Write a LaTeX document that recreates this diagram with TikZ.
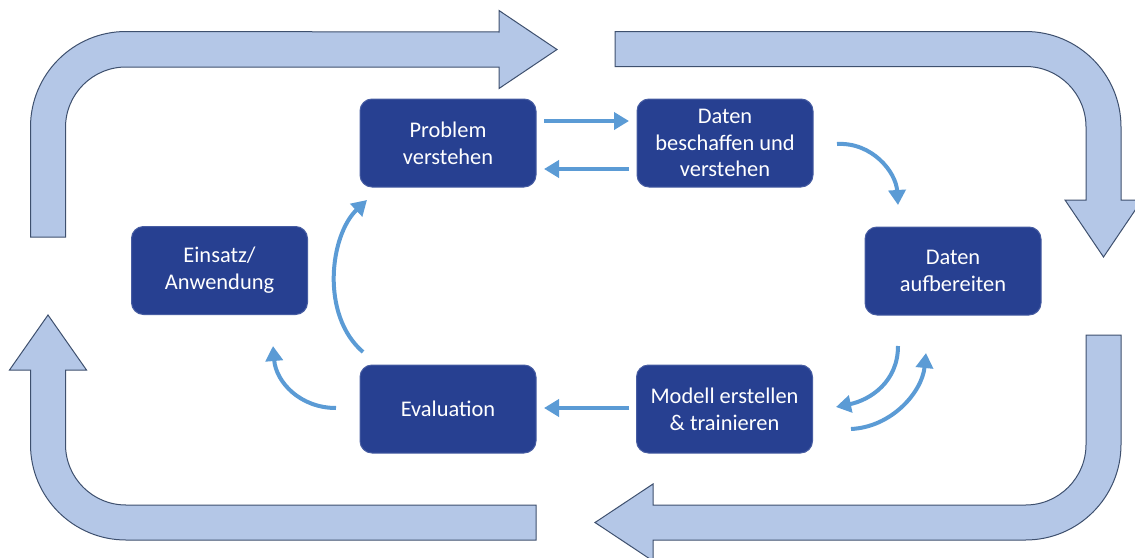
\documentclass[tikz,border=0pt]{standalone}
\usepackage{fontspec}
\setmainfont{Carlito}
\usetikzlibrary{arrows.meta}
\definecolor{boxblue}{RGB}{39,64,145}
\definecolor{arrowblue}{RGB}{91,155,213}
\definecolor{bigfill}{RGB}{180,199,231}
\definecolor{bigline}{RGB}{62,80,110}
\tikzset{
  stepbox/.style={rounded corners=6pt, minimum width=88pt, minimum height=44pt,
    inner sep=0pt, fill=boxblue, draw=boxblue!85!white, line width=0.5pt,
    text=white, align=center, font=\fontsize{11.2}{13.4}\selectfont},
  flow/.style={draw=arrowblue, line width=2pt, -{Triangle[length=7.5pt,width=8.5pt]}},
  bigarrow/.style={fill=bigfill, draw=bigline, line width=0.5pt, line join=miter}
}
\begin{document}
\begin{tikzpicture}[x=0.5pt,y=0.5pt]
\useasboundingbox (0,0) rectangle (1135,-557);
\clip (0,0) rectangle (1135,-557);
% big arrows
\path[bigarrow] (30.5,-237) -- (30.5,-127) arc[start angle=180,end angle=90,radius=47.75pt]
  -- (499,-32) -- (499,-10.5) -- (557,-49.5) -- (499,-88.5) -- (499,-67) -- (126,-67)
  arc[start angle=90,end angle=180,radius=30.25pt] -- (65.5,-237) -- cycle;
\path[bigarrow] (615,-31.5) -- (1025.5,-31.5) arc[start angle=90,end angle=0,radius=47.75pt]
  -- (1121,-200) -- (1142,-200) -- (1103.5,-257) -- (1065,-200) -- (1086,-200) -- (1086,-127)
  arc[start angle=0,end angle=90,radius=30.25pt] -- (615,-66.5) -- cycle;
\path[bigarrow] (1121,-335) -- (1121,-444.5) arc[start angle=0,end angle=-90,radius=47.75pt]
  -- (653,-540) -- (653,-561) -- (595,-522.5) -- (653,-484) -- (653,-505) -- (1025.5,-505)
  arc[start angle=-90,end angle=0,radius=30.25pt] -- (1086,-335) -- cycle;
\path[bigarrow] (536,-505) -- (126,-505) arc[start angle=-90,end angle=-180,radius=30.25pt]
  -- (65.5,-370) -- (86.5,-370) -- (48,-315) -- (9.5,-370) -- (30.5,-370) -- (30.5,-444.5)
  arc[start angle=180,end angle=270,radius=47.75pt] -- (536,-540) -- cycle;
% boxes
\node[stepbox] (P) at (448,-143) {Problem\\verstehen};
\node[stepbox] (D) at (725,-143) {Daten\\beschaffen und\\verstehen};
\node[stepbox] (A) at (953,-271) {Daten\\aufbereiten};
\node[stepbox] (M) at (724.5,-409) {Modell erstellen\\\& trainieren};
\node[stepbox] (E) at (448,-409) {Evaluation};
\node[stepbox] (I) at (219.5,-270.5) {Einsatz/\\Anwendung};
% connector end points
\coordinate (pd1) at (544,-121); \coordinate (pd2) at (629,-121);
\coordinate (dp1) at (629,-169); \coordinate (dp2) at (544,-169);
\coordinate (da1) at (837,-144); \coordinate (da2) at (898,-205);
\coordinate (am1) at (898,-346); \coordinate (am2) at (836,-407);
\coordinate (ma1) at (851,-429); \coordinate (ma2) at (926,-353);
\coordinate (me1) at (629,-408); \coordinate (me2) at (544,-408);
\coordinate (ei1) at (336,-408); \coordinate (ei2) at (273,-346);
\coordinate (ep1) at (363,-352); \coordinate (ep2) at (367,-200);
% small arrows
\draw[flow] (pd1) -- (pd2);
\draw[flow] (dp1) -- (dp2);
\draw[flow] (me1) -- (me2);
\draw[flow] (da1) .. controls (872,-142) and (896,-172) .. (da2);
\draw[flow] (am1) .. controls (898,-382) and (870,-400) .. (am2);
\draw[flow] (ma1) .. controls (892,-427) and (922,-392) .. (ma2);
\draw[flow] (ei1) .. controls (300,-408) and (276,-382) .. (ei2);
\draw[flow] (ep1) .. controls (320,-315) and (330,-235) .. (ep2);
\end{tikzpicture}
\end{document}
